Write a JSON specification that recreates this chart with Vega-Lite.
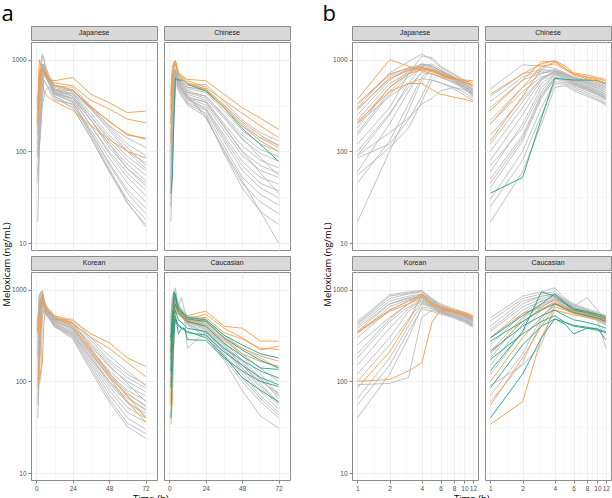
{
"$schema":"https://vega.github.io/schema/vega-lite/v6.json",
"padding":{"left":1,"top":2,"right":0,"bottom":0},
"config":{"font":"Liberation Sans","view":{"stroke":"#8C8C8C","strokeWidth":1},
"axis":{"gridColor":"#EBEBEB","labelFont":"Liberation Sans","labelFontSize":6.5,"labelColor":"#4D4D4D","tickColor":"#333333","tickSize":3,"tickWidth":0.6,"domain":false,"labelPadding":2,"labelFlush":false,"labelOverlap":false},
"title":{"color":"#000000","fontWeight":"normal"},"concat":{"spacing":5}},
"datasets":{
"subj":[
{"i":1,"p":"Japanese","g":"n"},{"i":2,"p":"Japanese","g":"n"},{"i":3,"p":"Japanese","g":"n"},{"i":4,"p":"Japanese","g":"n"},{"i":5,"p":"Japanese","g":"n"},{"i":6,"p":"Japanese","g":"n"},{"i":7,"p":"Japanese","g":"n"},{"i":8,"p":"Japanese","g":"n"},{"i":9,"p":"Japanese","g":"n"},{"i":10,"p":"Japanese","g":"n"},{"i":11,"p":"Japanese","g":"n"},{"i":12,"p":"Japanese","g":"n"},{"i":13,"p":"Japanese","g":"n"},{"i":14,"p":"Japanese","g":"n"},{"i":15,"p":"Japanese","g":"n"},{"i":16,"p":"Japanese","g":"n"},{"i":17,"p":"Japanese","g":"n"},{"i":18,"p":"Japanese","g":"n"},{"i":19,"p":"Japanese","g":"o"},{"i":20,"p":"Japanese","g":"o"},{"i":21,"p":"Japanese","g":"o"},{"i":22,"p":"Japanese","g":"o"},{"i":23,"p":"Japanese","g":"o"},
{"i":31,"p":"Chinese","g":"n"},{"i":32,"p":"Chinese","g":"n"},{"i":33,"p":"Chinese","g":"n"},{"i":34,"p":"Chinese","g":"n"},{"i":35,"p":"Chinese","g":"n"},{"i":36,"p":"Chinese","g":"n"},{"i":37,"p":"Chinese","g":"n"},{"i":38,"p":"Chinese","g":"n"},{"i":39,"p":"Chinese","g":"n"},{"i":40,"p":"Chinese","g":"n"},{"i":41,"p":"Chinese","g":"n"},{"i":42,"p":"Chinese","g":"n"},{"i":43,"p":"Chinese","g":"n"},{"i":44,"p":"Chinese","g":"n"},{"i":45,"p":"Chinese","g":"n"},{"i":46,"p":"Chinese","g":"n"},{"i":47,"p":"Chinese","g":"n"},{"i":48,"p":"Chinese","g":"n"},{"i":49,"p":"Chinese","g":"e"},{"i":50,"p":"Chinese","g":"o"},{"i":51,"p":"Chinese","g":"o"},{"i":52,"p":"Chinese","g":"o"},{"i":53,"p":"Chinese","g":"o"},
{"i":61,"p":"Korean","g":"n"},{"i":62,"p":"Korean","g":"n"},{"i":63,"p":"Korean","g":"n"},{"i":64,"p":"Korean","g":"n"},{"i":65,"p":"Korean","g":"n"},{"i":66,"p":"Korean","g":"n"},{"i":67,"p":"Korean","g":"n"},{"i":68,"p":"Korean","g":"n"},{"i":69,"p":"Korean","g":"n"},{"i":70,"p":"Korean","g":"n"},{"i":71,"p":"Korean","g":"n"},{"i":72,"p":"Korean","g":"n"},{"i":73,"p":"Korean","g":"n"},{"i":74,"p":"Korean","g":"n"},{"i":75,"p":"Korean","g":"n"},{"i":76,"p":"Korean","g":"n"},{"i":77,"p":"Korean","g":"n"},{"i":78,"p":"Korean","g":"n"},{"i":79,"p":"Korean","g":"o"},{"i":80,"p":"Korean","g":"o"},{"i":81,"p":"Korean","g":"o"},{"i":82,"p":"Korean","g":"o"},
{"i":91,"p":"Caucasian","g":"n"},{"i":92,"p":"Caucasian","g":"n"},{"i":93,"p":"Caucasian","g":"n"},{"i":94,"p":"Caucasian","g":"n"},{"i":95,"p":"Caucasian","g":"n"},{"i":96,"p":"Caucasian","g":"n"},{"i":97,"p":"Caucasian","g":"n"},{"i":98,"p":"Caucasian","g":"n"},{"i":99,"p":"Caucasian","g":"n"},{"i":100,"p":"Caucasian","g":"n"},{"i":101,"p":"Caucasian","g":"n"},{"i":102,"p":"Caucasian","g":"n"},{"i":103,"p":"Caucasian","g":"n"},{"i":104,"p":"Caucasian","g":"n"},{"i":105,"p":"Caucasian","g":"o"},{"i":106,"p":"Caucasian","g":"o"},{"i":107,"p":"Caucasian","g":"o"},{"i":108,"p":"Caucasian","g":"o"},{"i":109,"p":"Caucasian","g":"o"},{"i":110,"p":"Caucasian","g":"e"},{"i":111,"p":"Caucasian","g":"e"},{"i":112,"p":"Caucasian","g":"e"},{"i":113,"p":"Caucasian","g":"e"},{"i":114,"p":"Caucasian","g":"e"},{"i":115,"p":"Caucasian","g":"e"},{"i":116,"p":"Caucasian","g":"e"}
],
"pk":[
{"i":1,"t":1,"c":300},{"i":1,"t":2,"c":720},{"i":1,"t":3,"c":950},{"i":1,"t":4,"c":1150},{"i":1,"t":5,"c":1000},{"i":1,"t":6,"c":820},{"i":1,"t":8,"c":680},{"i":1,"t":10,"c":580},{"i":1,"t":12,"c":500},{"i":1,"t":24,"c":450},{"i":1,"t":36,"c":300},{"i":1,"t":48,"c":190},{"i":1,"t":60,"c":140},{"i":1,"t":72,"c":110},
{"i":2,"t":1,"c":120},{"i":2,"t":2,"c":300},{"i":2,"t":3,"c":700},{"i":2,"t":4,"c":1100},{"i":2,"t":5,"c":1050},{"i":2,"t":6,"c":850},{"i":2,"t":8,"c":700},{"i":2,"t":10,"c":600},{"i":2,"t":12,"c":520},{"i":2,"t":24,"c":500},{"i":2,"t":36,"c":310},{"i":2,"t":48,"c":190},{"i":2,"t":60,"c":120},{"i":2,"t":72,"c":90},
{"i":3,"t":1,"c":250},{"i":3,"t":2,"c":600},{"i":3,"t":3,"c":800},{"i":3,"t":4,"c":900},{"i":3,"t":5,"c":850},{"i":3,"t":6,"c":750},{"i":3,"t":8,"c":640},{"i":3,"t":10,"c":560},{"i":3,"t":12,"c":480},{"i":3,"t":24,"c":430},{"i":3,"t":36,"c":260},{"i":3,"t":48,"c":150},{"i":3,"t":60,"c":100},{"i":3,"t":72,"c":75},
{"i":4,"t":1,"c":180},{"i":4,"t":2,"c":500},{"i":4,"t":3,"c":750},{"i":4,"t":4,"c":880},{"i":4,"t":5,"c":820},{"i":4,"t":6,"c":720},{"i":4,"t":8,"c":620},{"i":4,"t":10,"c":540},{"i":4,"t":12,"c":470},{"i":4,"t":24,"c":400},{"i":4,"t":36,"c":240},{"i":4,"t":48,"c":140},{"i":4,"t":60,"c":88},{"i":4,"t":72,"c":62},
{"i":5,"t":1,"c":90},{"i":5,"t":2,"c":250},{"i":5,"t":3,"c":550},{"i":5,"t":4,"c":850},{"i":5,"t":5,"c":900},{"i":5,"t":6,"c":780},{"i":5,"t":8,"c":650},{"i":5,"t":10,"c":560},{"i":5,"t":12,"c":470},{"i":5,"t":24,"c":420},{"i":5,"t":36,"c":240},{"i":5,"t":48,"c":130},{"i":5,"t":60,"c":80},{"i":5,"t":72,"c":55},
{"i":6,"t":1,"c":330},{"i":6,"t":2,"c":680},{"i":6,"t":3,"c":820},{"i":6,"t":4,"c":850},{"i":6,"t":5,"c":780},{"i":6,"t":6,"c":700},{"i":6,"t":8,"c":600},{"i":6,"t":10,"c":520},{"i":6,"t":12,"c":450},{"i":6,"t":24,"c":380},{"i":6,"t":36,"c":220},{"i":6,"t":48,"c":120},{"i":6,"t":60,"c":72},{"i":6,"t":72,"c":48},
{"i":7,"t":1,"c":60},{"i":7,"t":2,"c":200},{"i":7,"t":3,"c":450},{"i":7,"t":4,"c":750},{"i":7,"t":5,"c":850},{"i":7,"t":6,"c":760},{"i":7,"t":8,"c":640},{"i":7,"t":10,"c":540},{"i":7,"t":12,"c":460},{"i":7,"t":24,"c":400},{"i":7,"t":36,"c":220},{"i":7,"t":48,"c":110},{"i":7,"t":60,"c":65},{"i":7,"t":72,"c":42},
{"i":8,"t":1,"c":150},{"i":8,"t":2,"c":420},{"i":8,"t":3,"c":650},{"i":8,"t":4,"c":800},{"i":8,"t":5,"c":780},{"i":8,"t":6,"c":700},{"i":8,"t":8,"c":600},{"i":8,"t":10,"c":520},{"i":8,"t":12,"c":440},{"i":8,"t":24,"c":360},{"i":8,"t":36,"c":190},{"i":8,"t":48,"c":100},{"i":8,"t":60,"c":58},{"i":8,"t":72,"c":38},
{"i":9,"t":1,"c":45},{"i":9,"t":2,"c":130},{"i":9,"t":3,"c":330},{"i":9,"t":4,"c":650},{"i":9,"t":5,"c":800},{"i":9,"t":6,"c":740},{"i":9,"t":8,"c":620},{"i":9,"t":10,"c":520},{"i":9,"t":12,"c":430},{"i":9,"t":24,"c":380},{"i":9,"t":36,"c":190},{"i":9,"t":48,"c":95},{"i":9,"t":60,"c":52},{"i":9,"t":72,"c":33},
{"i":10,"t":1,"c":220},{"i":10,"t":2,"c":550},{"i":10,"t":3,"c":720},{"i":10,"t":4,"c":820},{"i":10,"t":5,"c":760},{"i":10,"t":6,"c":680},{"i":10,"t":8,"c":580},{"i":10,"t":10,"c":500},{"i":10,"t":12,"c":420},{"i":10,"t":24,"c":340},{"i":10,"t":36,"c":170},{"i":10,"t":48,"c":85},{"i":10,"t":60,"c":45},{"i":10,"t":72,"c":28},
{"i":11,"t":1,"c":100},{"i":11,"t":2,"c":260},{"i":11,"t":3,"c":500},{"i":11,"t":4,"c":720},{"i":11,"t":5,"c":700},{"i":11,"t":6,"c":640},{"i":11,"t":8,"c":560},{"i":11,"t":10,"c":480},{"i":11,"t":12,"c":400},{"i":11,"t":24,"c":320},{"i":11,"t":36,"c":160},{"i":11,"t":48,"c":75},{"i":11,"t":60,"c":38},{"i":11,"t":72,"c":24},
{"i":12,"t":1,"c":17},{"i":12,"t":2,"c":100},{"i":12,"t":3,"c":280},{"i":12,"t":4,"c":600},{"i":12,"t":5,"c":780},{"i":12,"t":6,"c":720},{"i":12,"t":8,"c":600},{"i":12,"t":10,"c":500},{"i":12,"t":12,"c":420},{"i":12,"t":24,"c":350},{"i":12,"t":36,"c":160},{"i":12,"t":48,"c":72},{"i":12,"t":60,"c":35},{"i":12,"t":72,"c":21},
{"i":13,"t":1,"c":200},{"i":13,"t":2,"c":400},{"i":13,"t":3,"c":550},{"i":13,"t":4,"c":620},{"i":13,"t":5,"c":600},{"i":13,"t":6,"c":560},{"i":13,"t":8,"c":500},{"i":13,"t":10,"c":440},{"i":13,"t":12,"c":380},{"i":13,"t":24,"c":300},{"i":13,"t":36,"c":140},{"i":13,"t":48,"c":62},{"i":13,"t":60,"c":30},{"i":13,"t":72,"c":18},
{"i":14,"t":1,"c":85},{"i":14,"t":2,"c":120},{"i":14,"t":3,"c":220},{"i":14,"t":4,"c":400},{"i":14,"t":5,"c":700},{"i":14,"t":6,"c":650},{"i":14,"t":8,"c":560},{"i":14,"t":10,"c":480},{"i":14,"t":12,"c":400},{"i":14,"t":24,"c":300},{"i":14,"t":36,"c":140},{"i":14,"t":48,"c":60},{"i":14,"t":60,"c":27},{"i":14,"t":72,"c":16},
{"i":15,"t":1,"c":55},{"i":15,"t":2,"c":110},{"i":15,"t":3,"c":180},{"i":15,"t":4,"c":350},{"i":15,"t":5,"c":600},{"i":15,"t":6,"c":560},{"i":15,"t":8,"c":480},{"i":15,"t":10,"c":410},{"i":15,"t":12,"c":360},{"i":15,"t":24,"c":330},{"i":15,"t":36,"c":150},{"i":15,"t":48,"c":65},{"i":15,"t":60,"c":28},{"i":15,"t":72,"c":15},
{"i":16,"t":1,"c":280},{"i":16,"t":2,"c":650},{"i":16,"t":3,"c":780},{"i":16,"t":4,"c":830},{"i":16,"t":5,"c":760},{"i":16,"t":6,"c":680},{"i":16,"t":8,"c":580},{"i":16,"t":10,"c":500},{"i":16,"t":12,"c":430},{"i":16,"t":24,"c":430},{"i":16,"t":36,"c":290},{"i":16,"t":48,"c":170},{"i":16,"t":60,"c":100},{"i":16,"t":72,"c":65},
{"i":17,"t":1,"c":160},{"i":17,"t":2,"c":450},{"i":17,"t":3,"c":700},{"i":17,"t":4,"c":900},{"i":17,"t":5,"c":850},{"i":17,"t":6,"c":750},{"i":17,"t":8,"c":640},{"i":17,"t":10,"c":550},{"i":17,"t":12,"c":470},{"i":17,"t":24,"c":460},{"i":17,"t":36,"c":290},{"i":17,"t":48,"c":180},{"i":17,"t":60,"c":110},{"i":17,"t":72,"c":70},
{"i":18,"t":1,"c":90},{"i":18,"t":2,"c":160},{"i":18,"t":3,"c":230},{"i":18,"t":4,"c":330},{"i":18,"t":5,"c":380},{"i":18,"t":6,"c":460},{"i":18,"t":8,"c":500},{"i":18,"t":10,"c":470},{"i":18,"t":12,"c":420},{"i":18,"t":24,"c":380},{"i":18,"t":36,"c":220},{"i":18,"t":48,"c":120},{"i":18,"t":60,"c":65},{"i":18,"t":72,"c":45},
{"i":19,"t":1,"c":370},{"i":19,"t":2,"c":1000},{"i":19,"t":3,"c":850},{"i":19,"t":4,"c":760},{"i":19,"t":5,"c":700},{"i":19,"t":6,"c":650},{"i":19,"t":8,"c":620},{"i":19,"t":10,"c":600},{"i":19,"t":12,"c":590},{"i":19,"t":24,"c":640},{"i":19,"t":36,"c":420},{"i":19,"t":48,"c":340},{"i":19,"t":60,"c":265},{"i":19,"t":72,"c":275},
{"i":20,"t":1,"c":330},{"i":20,"t":2,"c":700},{"i":20,"t":3,"c":800},{"i":20,"t":4,"c":820},{"i":20,"t":5,"c":780},{"i":20,"t":6,"c":700},{"i":20,"t":8,"c":640},{"i":20,"t":10,"c":590},{"i":20,"t":12,"c":560},{"i":20,"t":24,"c":520},{"i":20,"t":36,"c":360},{"i":20,"t":48,"c":290},{"i":20,"t":60,"c":225},{"i":20,"t":72,"c":205},
{"i":21,"t":1,"c":210},{"i":21,"t":2,"c":450},{"i":21,"t":3,"c":550},{"i":21,"t":4,"c":550},{"i":21,"t":5,"c":470},{"i":21,"t":6,"c":420},{"i":21,"t":8,"c":390},{"i":21,"t":10,"c":370},{"i":21,"t":12,"c":350},{"i":21,"t":24,"c":280},{"i":21,"t":36,"c":190},{"i":21,"t":48,"c":135},{"i":21,"t":60,"c":100},{"i":21,"t":72,"c":85},
{"i":22,"t":1,"c":200},{"i":22,"t":2,"c":500},{"i":22,"t":3,"c":700},{"i":22,"t":4,"c":780},{"i":22,"t":5,"c":740},{"i":22,"t":6,"c":680},{"i":22,"t":8,"c":620},{"i":22,"t":10,"c":570},{"i":22,"t":12,"c":530},{"i":22,"t":24,"c":470},{"i":22,"t":36,"c":300},{"i":22,"t":48,"c":215},{"i":22,"t":60,"c":150},{"i":22,"t":72,"c":140},
{"i":23,"t":1,"c":290},{"i":23,"t":2,"c":620},{"i":23,"t":3,"c":760},{"i":23,"t":4,"c":800},{"i":23,"t":5,"c":760},{"i":23,"t":6,"c":690},{"i":23,"t":8,"c":620},{"i":23,"t":10,"c":570},{"i":23,"t":12,"c":520},{"i":23,"t":24,"c":460},{"i":23,"t":36,"c":310},{"i":23,"t":48,"c":210},{"i":23,"t":60,"c":155},{"i":23,"t":72,"c":135},
{"i":31,"t":1,"c":480},{"i":31,"t":2,"c":880},{"i":31,"t":3,"c":850},{"i":31,"t":4,"c":800},{"i":31,"t":5,"c":720},{"i":31,"t":6,"c":650},{"i":31,"t":8,"c":600},{"i":31,"t":10,"c":560},{"i":31,"t":12,"c":520},{"i":31,"t":24,"c":540},{"i":31,"t":36,"c":350},{"i":31,"t":48,"c":220},{"i":31,"t":60,"c":160},{"i":31,"t":72,"c":130},
{"i":32,"t":1,"c":400},{"i":32,"t":2,"c":700},{"i":32,"t":3,"c":780},{"i":32,"t":4,"c":760},{"i":32,"t":5,"c":700},{"i":32,"t":6,"c":640},{"i":32,"t":8,"c":580},{"i":32,"t":10,"c":540},{"i":32,"t":12,"c":500},{"i":32,"t":24,"c":480},{"i":32,"t":36,"c":310},{"i":32,"t":48,"c":200},{"i":32,"t":60,"c":140},{"i":32,"t":72,"c":110},
{"i":33,"t":1,"c":300},{"i":33,"t":2,"c":600},{"i":33,"t":3,"c":720},{"i":33,"t":4,"c":740},{"i":33,"t":5,"c":680},{"i":33,"t":6,"c":620},{"i":33,"t":8,"c":560},{"i":33,"t":10,"c":520},{"i":33,"t":12,"c":480},{"i":33,"t":24,"c":440},{"i":33,"t":36,"c":280},{"i":33,"t":48,"c":170},{"i":33,"t":60,"c":120},{"i":33,"t":72,"c":100},
{"i":34,"t":1,"c":220},{"i":34,"t":2,"c":500},{"i":34,"t":3,"c":700},{"i":34,"t":4,"c":780},{"i":34,"t":5,"c":700},{"i":34,"t":6,"c":620},{"i":34,"t":8,"c":560},{"i":34,"t":10,"c":510},{"i":34,"t":12,"c":460},{"i":34,"t":24,"c":400},{"i":34,"t":36,"c":250},{"i":34,"t":48,"c":150},{"i":34,"t":60,"c":105},{"i":34,"t":72,"c":88},
{"i":35,"t":1,"c":150},{"i":35,"t":2,"c":380},{"i":35,"t":3,"c":620},{"i":35,"t":4,"c":750},{"i":35,"t":5,"c":680},{"i":35,"t":6,"c":600},{"i":35,"t":8,"c":540},{"i":35,"t":10,"c":490},{"i":35,"t":12,"c":440},{"i":35,"t":24,"c":380},{"i":35,"t":36,"c":230},{"i":35,"t":48,"c":135},{"i":35,"t":60,"c":95},{"i":35,"t":72,"c":78},
{"i":36,"t":1,"c":100},{"i":36,"t":2,"c":300},{"i":36,"t":3,"c":600},{"i":36,"t":4,"c":720},{"i":36,"t":5,"c":650},{"i":36,"t":6,"c":580},{"i":36,"t":8,"c":520},{"i":36,"t":10,"c":470},{"i":36,"t":12,"c":420},{"i":36,"t":24,"c":360},{"i":36,"t":36,"c":200},{"i":36,"t":48,"c":115},{"i":36,"t":60,"c":80},{"i":36,"t":72,"c":66},
{"i":37,"t":1,"c":80},{"i":37,"t":2,"c":250},{"i":37,"t":3,"c":550},{"i":37,"t":4,"c":700},{"i":37,"t":5,"c":640},{"i":37,"t":6,"c":560},{"i":37,"t":8,"c":500},{"i":37,"t":10,"c":450},{"i":37,"t":12,"c":400},{"i":37,"t":24,"c":340},{"i":37,"t":36,"c":185},{"i":37,"t":48,"c":100},{"i":37,"t":60,"c":70},{"i":37,"t":72,"c":58},
{"i":38,"t":1,"c":60},{"i":38,"t":2,"c":200},{"i":38,"t":3,"c":500},{"i":38,"t":4,"c":680},{"i":38,"t":5,"c":620},{"i":38,"t":6,"c":550},{"i":38,"t":8,"c":480},{"i":38,"t":10,"c":430},{"i":38,"t":12,"c":380},{"i":38,"t":24,"c":320},{"i":38,"t":36,"c":170},{"i":38,"t":48,"c":90},{"i":38,"t":60,"c":62},{"i":38,"t":72,"c":52},
{"i":39,"t":1,"c":50},{"i":39,"t":2,"c":150},{"i":39,"t":3,"c":420},{"i":39,"t":4,"c":650},{"i":39,"t":5,"c":600},{"i":39,"t":6,"c":530},{"i":39,"t":8,"c":470},{"i":39,"t":10,"c":420},{"i":39,"t":12,"c":370},{"i":39,"t":24,"c":300},{"i":39,"t":36,"c":150},{"i":39,"t":48,"c":78},{"i":39,"t":60,"c":52},{"i":39,"t":72,"c":44},
{"i":40,"t":1,"c":40},{"i":40,"t":2,"c":130},{"i":40,"t":3,"c":380},{"i":40,"t":4,"c":620},{"i":40,"t":5,"c":580},{"i":40,"t":6,"c":520},{"i":40,"t":8,"c":460},{"i":40,"t":10,"c":410},{"i":40,"t":12,"c":360},{"i":40,"t":24,"c":290},{"i":40,"t":36,"c":140},{"i":40,"t":48,"c":70},{"i":40,"t":60,"c":45},{"i":40,"t":72,"c":37},
{"i":41,"t":1,"c":30},{"i":41,"t":2,"c":100},{"i":41,"t":3,"c":300},{"i":41,"t":4,"c":580},{"i":41,"t":5,"c":560},{"i":41,"t":6,"c":500},{"i":41,"t":8,"c":440},{"i":41,"t":10,"c":390},{"i":41,"t":12,"c":340},{"i":41,"t":24,"c":280},{"i":41,"t":36,"c":130},{"i":41,"t":48,"c":62},{"i":41,"t":60,"c":40},{"i":41,"t":72,"c":31},
{"i":42,"t":1,"c":25},{"i":42,"t":2,"c":80},{"i":42,"t":3,"c":250},{"i":42,"t":4,"c":550},{"i":42,"t":5,"c":540},{"i":42,"t":6,"c":480},{"i":42,"t":8,"c":420},{"i":42,"t":10,"c":370},{"i":42,"t":12,"c":330},{"i":42,"t":24,"c":260},{"i":42,"t":36,"c":115},{"i":42,"t":48,"c":52},{"i":42,"t":60,"c":34},{"i":42,"t":72,"c":26},
{"i":43,"t":1,"c":17},{"i":43,"t":2,"c":60},{"i":43,"t":3,"c":200},{"i":43,"t":4,"c":500},{"i":43,"t":5,"c":520},{"i":43,"t":6,"c":460},{"i":43,"t":8,"c":400},{"i":43,"t":10,"c":360},{"i":43,"t":12,"c":320},{"i":43,"t":24,"c":240},{"i":43,"t":36,"c":100},{"i":43,"t":48,"c":45},{"i":43,"t":60,"c":28},{"i":43,"t":72,"c":21},
{"i":44,"t":1,"c":70},{"i":44,"t":2,"c":180},{"i":44,"t":3,"c":450},{"i":44,"t":4,"c":700},{"i":44,"t":5,"c":640},{"i":44,"t":6,"c":560},{"i":44,"t":8,"c":490},{"i":44,"t":10,"c":440},{"i":44,"t":12,"c":390},{"i":44,"t":24,"c":250},{"i":44,"t":36,"c":95},{"i":44,"t":48,"c":40},{"i":44,"t":60,"c":22},{"i":44,"t":72,"c":16},
{"i":45,"t":1,"c":200},{"i":45,"t":2,"c":450},{"i":45,"t":3,"c":650},{"i":45,"t":4,"c":720},{"i":45,"t":5,"c":660},{"i":45,"t":6,"c":580},{"i":45,"t":8,"c":510},{"i":45,"t":10,"c":460},{"i":45,"t":12,"c":410},{"i":45,"t":24,"c":230},{"i":45,"t":36,"c":105},{"i":45,"t":48,"c":48},{"i":45,"t":60,"c":22},{"i":45,"t":72,"c":10},
{"i":46,"t":1,"c":350},{"i":46,"t":2,"c":650},{"i":46,"t":3,"c":750},{"i":46,"t":4,"c":760},{"i":46,"t":5,"c":700},{"i":46,"t":6,"c":640},{"i":46,"t":8,"c":580},{"i":46,"t":10,"c":540},{"i":46,"t":12,"c":500},{"i":46,"t":24,"c":460},{"i":46,"t":36,"c":300},{"i":46,"t":48,"c":190},{"i":46,"t":60,"c":140},{"i":46,"t":72,"c":118},
{"i":47,"t":1,"c":120},{"i":47,"t":2,"c":350},{"i":47,"t":3,"c":620},{"i":47,"t":4,"c":740},{"i":47,"t":5,"c":680},{"i":47,"t":6,"c":600},{"i":47,"t":8,"c":540},{"i":47,"t":10,"c":490},{"i":47,"t":12,"c":440},{"i":47,"t":24,"c":400},{"i":47,"t":36,"c":240},{"i":47,"t":48,"c":140},{"i":47,"t":60,"c":85},{"i":47,"t":72,"c":55},
{"i":48,"t":1,"c":45},{"i":48,"t":2,"c":140},{"i":48,"t":3,"c":400},{"i":48,"t":4,"c":640},{"i":48,"t":5,"c":600},{"i":48,"t":6,"c":540},{"i":48,"t":8,"c":480},{"i":48,"t":10,"c":430},{"i":48,"t":12,"c":380},{"i":48,"t":24,"c":350},{"i":48,"t":36,"c":190},{"i":48,"t":48,"c":100},{"i":48,"t":60,"c":58},{"i":48,"t":72,"c":35},
{"i":49,"t":1,"c":35},{"i":49,"t":2,"c":52},{"i":49,"t":3,"c":230},{"i":49,"t":4,"c":630},{"i":49,"t":5,"c":610},{"i":49,"t":6,"c":600},{"i":49,"t":8,"c":600},{"i":49,"t":10,"c":590},{"i":49,"t":12,"c":540},{"i":49,"t":24,"c":455},{"i":49,"t":36,"c":300},{"i":49,"t":48,"c":178},{"i":49,"t":60,"c":119},{"i":49,"t":72,"c":78},
{"i":50,"t":1,"c":420},{"i":50,"t":2,"c":700},{"i":50,"t":3,"c":900},{"i":50,"t":4,"c":980},{"i":50,"t":5,"c":850},{"i":50,"t":6,"c":720},{"i":50,"t":8,"c":680},{"i":50,"t":10,"c":640},{"i":50,"t":12,"c":610},{"i":50,"t":24,"c":590},{"i":50,"t":36,"c":420},{"i":50,"t":48,"c":300},{"i":50,"t":60,"c":230},{"i":50,"t":72,"c":174},
{"i":51,"t":1,"c":280},{"i":51,"t":2,"c":600},{"i":51,"t":3,"c":950},{"i":51,"t":4,"c":960},{"i":51,"t":5,"c":800},{"i":51,"t":6,"c":700},{"i":51,"t":8,"c":650},{"i":51,"t":10,"c":620},{"i":51,"t":12,"c":590},{"i":51,"t":24,"c":500},{"i":51,"t":36,"c":360},{"i":51,"t":48,"c":260},{"i":51,"t":60,"c":190},{"i":51,"t":72,"c":141},
{"i":52,"t":1,"c":200},{"i":52,"t":2,"c":500},{"i":52,"t":3,"c":850},{"i":52,"t":4,"c":900},{"i":52,"t":5,"c":780},{"i":52,"t":6,"c":680},{"i":52,"t":8,"c":620},{"i":52,"t":10,"c":580},{"i":52,"t":12,"c":550},{"i":52,"t":24,"c":470},{"i":52,"t":36,"c":300},{"i":52,"t":48,"c":190},{"i":52,"t":60,"c":130},{"i":52,"t":72,"c":100},
{"i":53,"t":1,"c":130},{"i":53,"t":2,"c":400},{"i":53,"t":3,"c":800},{"i":53,"t":4,"c":950},{"i":53,"t":5,"c":800},{"i":53,"t":6,"c":700},{"i":53,"t":8,"c":640},{"i":53,"t":10,"c":600},{"i":53,"t":12,"c":560},{"i":53,"t":24,"c":480},{"i":53,"t":36,"c":320},{"i":53,"t":48,"c":210},{"i":53,"t":60,"c":150},{"i":53,"t":72,"c":115},
{"i":61,"t":1,"c":450},{"i":61,"t":2,"c":880},{"i":61,"t":3,"c":950},{"i":61,"t":4,"c":980},{"i":61,"t":5,"c":800},{"i":61,"t":6,"c":700},{"i":61,"t":8,"c":620},{"i":61,"t":10,"c":570},{"i":61,"t":12,"c":520},{"i":61,"t":24,"c":440},{"i":61,"t":36,"c":280},{"i":61,"t":48,"c":170},{"i":61,"t":60,"c":120},{"i":61,"t":72,"c":92},
{"i":62,"t":1,"c":420},{"i":62,"t":2,"c":800},{"i":62,"t":3,"c":900},{"i":62,"t":4,"c":950},{"i":62,"t":5,"c":780},{"i":62,"t":6,"c":680},{"i":62,"t":8,"c":600},{"i":62,"t":10,"c":550},{"i":62,"t":12,"c":500},{"i":62,"t":24,"c":420},{"i":62,"t":36,"c":260},{"i":62,"t":48,"c":160},{"i":62,"t":60,"c":110},{"i":62,"t":72,"c":85},
{"i":63,"t":1,"c":400},{"i":63,"t":2,"c":750},{"i":63,"t":3,"c":850},{"i":63,"t":4,"c":900},{"i":63,"t":5,"c":750},{"i":63,"t":6,"c":660},{"i":63,"t":8,"c":590},{"i":63,"t":10,"c":540},{"i":63,"t":12,"c":490},{"i":63,"t":24,"c":400},{"i":63,"t":36,"c":240},{"i":63,"t":48,"c":145},{"i":63,"t":60,"c":100},{"i":63,"t":72,"c":77},
{"i":64,"t":1,"c":380},{"i":64,"t":2,"c":700},{"i":64,"t":3,"c":820},{"i":64,"t":4,"c":880},{"i":64,"t":5,"c":740},{"i":64,"t":6,"c":650},{"i":64,"t":8,"c":580},{"i":64,"t":10,"c":530},{"i":64,"t":12,"c":480},{"i":64,"t":24,"c":390},{"i":64,"t":36,"c":225},{"i":64,"t":48,"c":130},{"i":64,"t":60,"c":88},{"i":64,"t":72,"c":70},
{"i":65,"t":1,"c":330},{"i":65,"t":2,"c":650},{"i":65,"t":3,"c":780},{"i":65,"t":4,"c":850},{"i":65,"t":5,"c":720},{"i":65,"t":6,"c":640},{"i":65,"t":8,"c":570},{"i":65,"t":10,"c":520},{"i":65,"t":12,"c":470},{"i":65,"t":24,"c":380},{"i":65,"t":36,"c":210},{"i":65,"t":48,"c":120},{"i":65,"t":60,"c":80},{"i":65,"t":72,"c":62},
{"i":66,"t":1,"c":300},{"i":66,"t":2,"c":600},{"i":66,"t":3,"c":750},{"i":66,"t":4,"c":820},{"i":66,"t":5,"c":700},{"i":66,"t":6,"c":620},{"i":66,"t":8,"c":560},{"i":66,"t":10,"c":510},{"i":66,"t":12,"c":460},{"i":66,"t":24,"c":370},{"i":66,"t":36,"c":200},{"i":66,"t":48,"c":110},{"i":66,"t":60,"c":72},{"i":66,"t":72,"c":55},
{"i":67,"t":1,"c":250},{"i":67,"t":2,"c":500},{"i":67,"t":3,"c":700},{"i":67,"t":4,"c":800},{"i":67,"t":5,"c":690},{"i":67,"t":6,"c":610},{"i":67,"t":8,"c":550},{"i":67,"t":10,"c":500},{"i":67,"t":12,"c":450},{"i":67,"t":24,"c":360},{"i":67,"t":36,"c":190},{"i":67,"t":48,"c":100},{"i":67,"t":60,"c":65},{"i":67,"t":72,"c":50},
{"i":68,"t":1,"c":180},{"i":68,"t":2,"c":450},{"i":68,"t":3,"c":650},{"i":68,"t":4,"c":780},{"i":68,"t":5,"c":680},{"i":68,"t":6,"c":600},{"i":68,"t":8,"c":540},{"i":68,"t":10,"c":490},{"i":68,"t":12,"c":440},{"i":68,"t":24,"c":340},{"i":68,"t":36,"c":180},{"i":68,"t":48,"c":95},{"i":68,"t":60,"c":58},{"i":68,"t":72,"c":45},
{"i":69,"t":1,"c":150},{"i":69,"t":2,"c":380},{"i":69,"t":3,"c":620},{"i":69,"t":4,"c":760},{"i":69,"t":5,"c":670},{"i":69,"t":6,"c":590},{"i":69,"t":8,"c":530},{"i":69,"t":10,"c":480},{"i":69,"t":12,"c":430},{"i":69,"t":24,"c":330},{"i":69,"t":36,"c":170},{"i":69,"t":48,"c":88},{"i":69,"t":60,"c":52},{"i":69,"t":72,"c":40},
{"i":70,"t":1,"c":120},{"i":70,"t":2,"c":300},{"i":70,"t":3,"c":580},{"i":70,"t":4,"c":740},{"i":70,"t":5,"c":660},{"i":70,"t":6,"c":580},{"i":70,"t":8,"c":520},{"i":70,"t":10,"c":470},{"i":70,"t":12,"c":420},{"i":70,"t":24,"c":320},{"i":70,"t":36,"c":160},{"i":70,"t":48,"c":80},{"i":70,"t":60,"c":46},{"i":70,"t":72,"c":36},
{"i":71,"t":1,"c":92},{"i":71,"t":2,"c":95},{"i":71,"t":3,"c":110},{"i":71,"t":4,"c":500},{"i":71,"t":5,"c":600},{"i":71,"t":6,"c":560},{"i":71,"t":8,"c":510},{"i":71,"t":10,"c":460},{"i":71,"t":12,"c":410},{"i":71,"t":24,"c":310},{"i":71,"t":36,"c":150},{"i":71,"t":48,"c":72},{"i":71,"t":60,"c":40},{"i":71,"t":72,"c":30},
{"i":72,"t":1,"c":65},{"i":72,"t":2,"c":180},{"i":72,"t":3,"c":400},{"i":72,"t":4,"c":700},{"i":72,"t":5,"c":640},{"i":72,"t":6,"c":570},{"i":72,"t":8,"c":510},{"i":72,"t":10,"c":460},{"i":72,"t":12,"c":410},{"i":72,"t":24,"c":300},{"i":72,"t":36,"c":140},{"i":72,"t":48,"c":65},{"i":72,"t":60,"c":35},{"i":72,"t":72,"c":27},
{"i":73,"t":1,"c":40},{"i":73,"t":2,"c":120},{"i":73,"t":3,"c":300},{"i":73,"t":4,"c":650},{"i":73,"t":5,"c":620},{"i":73,"t":6,"c":560},{"i":73,"t":8,"c":500},{"i":73,"t":10,"c":450},{"i":73,"t":12,"c":400},{"i":73,"t":24,"c":290},{"i":73,"t":36,"c":130},{"i":73,"t":48,"c":60},{"i":73,"t":60,"c":32},{"i":73,"t":72,"c":24},
{"i":74,"t":1,"c":200},{"i":74,"t":2,"c":480},{"i":74,"t":3,"c":700},{"i":74,"t":4,"c":900},{"i":74,"t":5,"c":780},{"i":74,"t":6,"c":660},{"i":74,"t":8,"c":580},{"i":74,"t":10,"c":520},{"i":74,"t":12,"c":470},{"i":74,"t":24,"c":480},{"i":74,"t":36,"c":300},{"i":74,"t":48,"c":190},{"i":74,"t":60,"c":130},{"i":74,"t":72,"c":90},
{"i":75,"t":1,"c":350},{"i":75,"t":2,"c":700},{"i":75,"t":3,"c":800},{"i":75,"t":4,"c":830},{"i":75,"t":5,"c":720},{"i":75,"t":6,"c":630},{"i":75,"t":8,"c":570},{"i":75,"t":10,"c":520},{"i":75,"t":12,"c":470},{"i":75,"t":24,"c":420},{"i":75,"t":36,"c":250},{"i":75,"t":48,"c":150},{"i":75,"t":60,"c":95},{"i":75,"t":72,"c":60},
{"i":76,"t":1,"c":55},{"i":76,"t":2,"c":150},{"i":76,"t":3,"c":350},{"i":76,"t":4,"c":620},{"i":76,"t":5,"c":580},{"i":76,"t":6,"c":540},{"i":76,"t":8,"c":490},{"i":76,"t":10,"c":440},{"i":76,"t":12,"c":390},{"i":76,"t":24,"c":330},{"i":76,"t":36,"c":180},{"i":76,"t":48,"c":100},{"i":76,"t":60,"c":60},{"i":76,"t":72,"c":42},
{"i":77,"t":1,"c":100},{"i":77,"t":2,"c":250},{"i":77,"t":3,"c":480},{"i":77,"t":4,"c":720},{"i":77,"t":5,"c":650},{"i":77,"t":6,"c":580},{"i":77,"t":8,"c":520},{"i":77,"t":10,"c":470},{"i":77,"t":12,"c":420},{"i":77,"t":24,"c":350},{"i":77,"t":36,"c":200},{"i":77,"t":48,"c":115},{"i":77,"t":60,"c":68},{"i":77,"t":72,"c":48},
{"i":78,"t":1,"c":430},{"i":78,"t":2,"c":850},{"i":78,"t":3,"c":920},{"i":78,"t":4,"c":960},{"i":78,"t":5,"c":760},{"i":78,"t":6,"c":640},{"i":78,"t":8,"c":560},{"i":78,"t":10,"c":500},{"i":78,"t":12,"c":450},{"i":78,"t":24,"c":380},{"i":78,"t":36,"c":220},{"i":78,"t":48,"c":125},{"i":78,"t":60,"c":75},{"i":78,"t":72,"c":53},
{"i":79,"t":1,"c":350},{"i":79,"t":2,"c":600},{"i":79,"t":3,"c":750},{"i":79,"t":4,"c":900},{"i":79,"t":5,"c":700},{"i":79,"t":6,"c":650},{"i":79,"t":8,"c":600},{"i":79,"t":10,"c":560},{"i":79,"t":12,"c":520},{"i":79,"t":24,"c":460},{"i":79,"t":36,"c":330},{"i":79,"t":48,"c":265},{"i":79,"t":60,"c":180},{"i":79,"t":72,"c":146},
{"i":80,"t":1,"c":340},{"i":80,"t":2,"c":580},{"i":80,"t":3,"c":700},{"i":80,"t":4,"c":850},{"i":80,"t":5,"c":680},{"i":80,"t":6,"c":630},{"i":80,"t":8,"c":580},{"i":80,"t":10,"c":540},{"i":80,"t":12,"c":500},{"i":80,"t":24,"c":430},{"i":80,"t":36,"c":300},{"i":80,"t":48,"c":230},{"i":80,"t":60,"c":160},{"i":80,"t":72,"c":113},
{"i":81,"t":1,"c":100},{"i":81,"t":2,"c":105},{"i":81,"t":3,"c":130},{"i":81,"t":4,"c":160},{"i":81,"t":5,"c":450},{"i":81,"t":6,"c":600},{"i":81,"t":8,"c":580},{"i":81,"t":10,"c":540},{"i":81,"t":12,"c":500},{"i":81,"t":24,"c":400},{"i":81,"t":36,"c":210},{"i":81,"t":48,"c":110},{"i":81,"t":60,"c":60},{"i":81,"t":72,"c":36},
{"i":82,"t":1,"c":85},{"i":82,"t":2,"c":210},{"i":82,"t":3,"c":450},{"i":82,"t":4,"c":880},{"i":82,"t":5,"c":700},{"i":82,"t":6,"c":620},{"i":82,"t":8,"c":570},{"i":82,"t":10,"c":530},{"i":82,"t":12,"c":490},{"i":82,"t":24,"c":440},{"i":82,"t":36,"c":230},{"i":82,"t":48,"c":120},{"i":82,"t":60,"c":70},{"i":82,"t":72,"c":40},
{"i":91,"t":1,"c":494},{"i":91,"t":2,"c":850},{"i":91,"t":3,"c":950},{"i":91,"t":4,"c":1050},{"i":91,"t":5,"c":800},{"i":91,"t":6,"c":700},{"i":91,"t":8,"c":620},{"i":91,"t":10,"c":570},{"i":91,"t":12,"c":520},{"i":91,"t":24,"c":480},{"i":91,"t":36,"c":320},{"i":91,"t":48,"c":230},{"i":91,"t":60,"c":180},{"i":91,"t":72,"c":140},
{"i":92,"t":1,"c":455},{"i":92,"t":2,"c":800},{"i":92,"t":3,"c":900},{"i":92,"t":4,"c":950},{"i":92,"t":5,"c":780},{"i":92,"t":6,"c":680},{"i":92,"t":8,"c":600},{"i":92,"t":10,"c":550},{"i":92,"t":12,"c":500},{"i":92,"t":24,"c":450},{"i":92,"t":36,"c":290},{"i":92,"t":48,"c":190},{"i":92,"t":60,"c":120},{"i":92,"t":72,"c":71},
{"i":93,"t":1,"c":368},{"i":93,"t":2,"c":700},{"i":93,"t":3,"c":850},{"i":93,"t":4,"c":900},{"i":93,"t":5,"c":760},{"i":93,"t":6,"c":660},{"i":93,"t":8,"c":820},{"i":93,"t":10,"c":600},{"i":93,"t":12,"c":480},{"i":93,"t":24,"c":430},{"i":93,"t":36,"c":270},{"i":93,"t":48,"c":170},{"i":93,"t":60,"c":110},{"i":93,"t":72,"c":65},
{"i":94,"t":1,"c":298},{"i":94,"t":2,"c":600},{"i":94,"t":3,"c":750},{"i":94,"t":4,"c":850},{"i":94,"t":5,"c":720},{"i":94,"t":6,"c":640},{"i":94,"t":8,"c":580},{"i":94,"t":10,"c":530},{"i":94,"t":12,"c":480},{"i":94,"t":24,"c":400},{"i":94,"t":36,"c":250},{"i":94,"t":48,"c":150},{"i":94,"t":60,"c":95},{"i":94,"t":72,"c":58},
{"i":95,"t":1,"c":213},{"i":95,"t":2,"c":500},{"i":95,"t":3,"c":700},{"i":95,"t":4,"c":800},{"i":95,"t":5,"c":700},{"i":95,"t":6,"c":620},{"i":95,"t":8,"c":560},{"i":95,"t":10,"c":510},{"i":95,"t":12,"c":460},{"i":95,"t":24,"c":380},{"i":95,"t":36,"c":230},{"i":95,"t":48,"c":140},{"i":95,"t":60,"c":85},{"i":95,"t":72,"c":55},
{"i":96,"t":1,"c":150},{"i":96,"t":2,"c":420},{"i":96,"t":3,"c":650},{"i":96,"t":4,"c":780},{"i":96,"t":5,"c":680},{"i":96,"t":6,"c":600},{"i":96,"t":8,"c":540},{"i":96,"t":10,"c":500},{"i":96,"t":12,"c":450},{"i":96,"t":24,"c":370},{"i":96,"t":36,"c":220},{"i":96,"t":48,"c":130},{"i":96,"t":60,"c":78},{"i":96,"t":72,"c":50},
{"i":97,"t":1,"c":118},{"i":97,"t":2,"c":350},{"i":97,"t":3,"c":600},{"i":97,"t":4,"c":750},{"i":97,"t":5,"c":660},{"i":97,"t":6,"c":590},{"i":97,"t":8,"c":530},{"i":97,"t":10,"c":490},{"i":97,"t":12,"c":440},{"i":97,"t":24,"c":360},{"i":97,"t":36,"c":200},{"i":97,"t":48,"c":120},{"i":97,"t":60,"c":70},{"i":97,"t":72,"c":46},
{"i":98,"t":1,"c":90},{"i":98,"t":2,"c":150},{"i":98,"t":3,"c":250},{"i":98,"t":4,"c":700},{"i":98,"t":5,"c":650},{"i":98,"t":6,"c":580},{"i":98,"t":8,"c":520},{"i":98,"t":10,"c":480},{"i":98,"t":12,"c":430},{"i":98,"t":24,"c":340},{"i":98,"t":36,"c":190},{"i":98,"t":48,"c":110},{"i":98,"t":60,"c":65},{"i":98,"t":72,"c":43},
{"i":99,"t":1,"c":70},{"i":99,"t":2,"c":200},{"i":99,"t":3,"c":500},{"i":99,"t":4,"c":720},{"i":99,"t":5,"c":640},{"i":99,"t":6,"c":570},{"i":99,"t":8,"c":510},{"i":99,"t":10,"c":470},{"i":99,"t":12,"c":420},{"i":99,"t":24,"c":330},{"i":99,"t":36,"c":180},{"i":99,"t":48,"c":100},{"i":99,"t":60,"c":60},{"i":99,"t":72,"c":40},
{"i":100,"t":1,"c":60},{"i":100,"t":2,"c":160},{"i":100,"t":3,"c":450},{"i":100,"t":4,"c":700},{"i":100,"t":5,"c":620},{"i":100,"t":6,"c":560},{"i":100,"t":8,"c":500},{"i":100,"t":10,"c":460},{"i":100,"t":12,"c":410},{"i":100,"t":24,"c":310},{"i":100,"t":36,"c":170},{"i":100,"t":48,"c":80},{"i":100,"t":60,"c":42},{"i":100,"t":72,"c":31},
{"i":101,"t":1,"c":350},{"i":101,"t":2,"c":650},{"i":101,"t":3,"c":800},{"i":101,"t":4,"c":880},{"i":101,"t":5,"c":740},{"i":101,"t":6,"c":650},{"i":101,"t":8,"c":580},{"i":101,"t":10,"c":520},{"i":101,"t":12,"c":470},{"i":101,"t":24,"c":420},{"i":101,"t":36,"c":260},{"i":101,"t":48,"c":160},{"i":101,"t":60,"c":105},{"i":101,"t":72,"c":70},
{"i":102,"t":1,"c":250},{"i":102,"t":2,"c":550},{"i":102,"t":3,"c":750},{"i":102,"t":4,"c":830},{"i":102,"t":5,"c":710},{"i":102,"t":6,"c":630},{"i":102,"t":8,"c":560},{"i":102,"t":10,"c":480},{"i":102,"t":12,"c":230},{"i":102,"t":24,"c":350},{"i":102,"t":36,"c":220},{"i":102,"t":48,"c":140},{"i":102,"t":60,"c":90},{"i":102,"t":72,"c":58},
{"i":103,"t":1,"c":400},{"i":103,"t":2,"c":750},{"i":103,"t":3,"c":850},{"i":103,"t":4,"c":900},{"i":103,"t":5,"c":760},{"i":103,"t":6,"c":670},{"i":103,"t":8,"c":600},{"i":103,"t":10,"c":550},{"i":103,"t":12,"c":500},{"i":103,"t":24,"c":460},{"i":103,"t":36,"c":300},{"i":103,"t":48,"c":200},{"i":103,"t":60,"c":140},{"i":103,"t":72,"c":100},
{"i":104,"t":1,"c":180},{"i":104,"t":2,"c":480},{"i":104,"t":3,"c":680},{"i":104,"t":4,"c":800},{"i":104,"t":5,"c":700},{"i":104,"t":6,"c":620},{"i":104,"t":8,"c":560},{"i":104,"t":10,"c":510},{"i":104,"t":12,"c":460},{"i":104,"t":24,"c":390},{"i":104,"t":36,"c":240},{"i":104,"t":48,"c":150},{"i":104,"t":60,"c":100},{"i":104,"t":72,"c":75},
{"i":105,"t":1,"c":300},{"i":105,"t":2,"c":550},{"i":105,"t":3,"c":650},{"i":105,"t":4,"c":780},{"i":105,"t":5,"c":650},{"i":105,"t":6,"c":600},{"i":105,"t":8,"c":560},{"i":105,"t":10,"c":540},{"i":105,"t":12,"c":520},{"i":105,"t":24,"c":585},{"i":105,"t":36,"c":400},{"i":105,"t":48,"c":380},{"i":105,"t":60,"c":275},{"i":105,"t":72,"c":275},
{"i":106,"t":1,"c":200},{"i":106,"t":2,"c":450},{"i":106,"t":3,"c":620},{"i":106,"t":4,"c":720},{"i":106,"t":5,"c":640},{"i":106,"t":6,"c":580},{"i":106,"t":8,"c":540},{"i":106,"t":10,"c":510},{"i":106,"t":12,"c":480},{"i":106,"t":24,"c":540},{"i":106,"t":36,"c":380},{"i":106,"t":48,"c":300},{"i":106,"t":60,"c":220},{"i":106,"t":72,"c":242},
{"i":107,"t":1,"c":100},{"i":107,"t":2,"c":300},{"i":107,"t":3,"c":500},{"i":107,"t":4,"c":700},{"i":107,"t":5,"c":620},{"i":107,"t":6,"c":570},{"i":107,"t":8,"c":530},{"i":107,"t":10,"c":500},{"i":107,"t":12,"c":470},{"i":107,"t":24,"c":500},{"i":107,"t":36,"c":340},{"i":107,"t":48,"c":290},{"i":107,"t":60,"c":230},{"i":107,"t":72,"c":223},
{"i":108,"t":1,"c":55},{"i":108,"t":2,"c":180},{"i":108,"t":3,"c":400},{"i":108,"t":4,"c":650},{"i":108,"t":5,"c":600},{"i":108,"t":6,"c":550},{"i":108,"t":8,"c":520},{"i":108,"t":10,"c":490},{"i":108,"t":12,"c":460},{"i":108,"t":24,"c":450},{"i":108,"t":36,"c":300},{"i":108,"t":48,"c":230},{"i":108,"t":60,"c":190},{"i":108,"t":72,"c":166},
{"i":109,"t":1,"c":34},{"i":109,"t":2,"c":60},{"i":109,"t":3,"c":300},{"i":109,"t":4,"c":600},{"i":109,"t":5,"c":560},{"i":109,"t":6,"c":530},{"i":109,"t":8,"c":500},{"i":109,"t":10,"c":470},{"i":109,"t":12,"c":440},{"i":109,"t":24,"c":420},{"i":109,"t":36,"c":280},{"i":109,"t":48,"c":200},{"i":109,"t":60,"c":165},{"i":109,"t":72,"c":146},
{"i":110,"t":1,"c":298},{"i":110,"t":2,"c":520},{"i":110,"t":3,"c":700},{"i":110,"t":4,"c":900},{"i":110,"t":5,"c":720},{"i":110,"t":6,"c":620},{"i":110,"t":8,"c":580},{"i":110,"t":10,"c":540},{"i":110,"t":12,"c":500},{"i":110,"t":24,"c":470},{"i":110,"t":36,"c":320},{"i":110,"t":48,"c":250},{"i":110,"t":60,"c":200},{"i":110,"t":72,"c":180},
{"i":111,"t":1,"c":275},{"i":111,"t":2,"c":450},{"i":111,"t":3,"c":600},{"i":111,"t":4,"c":700},{"i":111,"t":5,"c":620},{"i":111,"t":6,"c":560},{"i":111,"t":8,"c":520},{"i":111,"t":10,"c":490},{"i":111,"t":12,"c":450},{"i":111,"t":24,"c":400},{"i":111,"t":36,"c":260},{"i":111,"t":48,"c":190},{"i":111,"t":60,"c":140},{"i":111,"t":72,"c":135},
{"i":112,"t":1,"c":213},{"i":112,"t":2,"c":400},{"i":112,"t":3,"c":520},{"i":112,"t":4,"c":600},{"i":112,"t":5,"c":520},{"i":112,"t":6,"c":470},{"i":112,"t":8,"c":440},{"i":112,"t":10,"c":410},{"i":112,"t":12,"c":380},{"i":112,"t":24,"c":350},{"i":112,"t":36,"c":230},{"i":112,"t":48,"c":170},{"i":112,"t":60,"c":130},{"i":112,"t":72,"c":109},
{"i":113,"t":1,"c":173},{"i":113,"t":2,"c":330},{"i":113,"t":3,"c":450},{"i":113,"t":4,"c":520},{"i":113,"t":5,"c":440},{"i":113,"t":6,"c":400},{"i":113,"t":8,"c":380},{"i":113,"t":10,"c":360},{"i":113,"t":12,"c":340},{"i":113,"t":24,"c":320},{"i":113,"t":36,"c":210},{"i":113,"t":48,"c":150},{"i":113,"t":60,"c":110},{"i":113,"t":72,"c":92},
{"i":114,"t":1,"c":85},{"i":114,"t":2,"c":250},{"i":114,"t":3,"c":400},{"i":114,"t":4,"c":480},{"i":114,"t":5,"c":420},{"i":114,"t":6,"c":330},{"i":114,"t":8,"c":380},{"i":114,"t":10,"c":380},{"i":114,"t":12,"c":285},{"i":114,"t":24,"c":280},{"i":114,"t":36,"c":180},{"i":114,"t":48,"c":130},{"i":114,"t":60,"c":100},{"i":114,"t":72,"c":88},
{"i":115,"t":1,"c":40},{"i":115,"t":2,"c":120},{"i":115,"t":3,"c":300},{"i":115,"t":4,"c":480},{"i":115,"t":5,"c":440},{"i":115,"t":6,"c":410},{"i":115,"t":8,"c":390},{"i":115,"t":10,"c":370},{"i":115,"t":12,"c":350},{"i":115,"t":24,"c":300},{"i":115,"t":36,"c":190},{"i":115,"t":48,"c":110},{"i":115,"t":60,"c":80},{"i":115,"t":72,"c":60},
{"i":116,"t":1,"c":130},{"i":116,"t":2,"c":350},{"i":116,"t":3,"c":950},{"i":116,"t":4,"c":850},{"i":116,"t":5,"c":700},{"i":116,"t":6,"c":600},{"i":116,"t":8,"c":560},{"i":116,"t":10,"c":520},{"i":116,"t":12,"c":480},{"i":116,"t":24,"c":450},{"i":116,"t":36,"c":300},{"i":116,"t":48,"c":220},{"i":116,"t":60,"c":170},{"i":116,"t":72,"c":140}
]},
"spacing":31,
"hconcat":[
{"title":{"text":"a","anchor":"start","frame":"bounds","fontSize":22,"font":"Open Sans","offset":0},
 "vconcat":[{"title":{"text":"Meloxicam (ng/mL)","orient":"left","anchor":"middle","fontSize":9.5,"font":"Open Sans","offset":0},
  "vconcat":[{"title":{"text":"Time (h)","orient":"bottom","anchor":"middle","fontSize":9.5,"font":"Open Sans","offset":2},
   "spacing":4,
   "vconcat":[
    {"spacing":5,"hconcat":[
     {"spacing":0,"vconcat":[
      {"width":126,"height":14,"data":{"values":[{"p":"Japanese"}]},"mark":{"type":"text","fontSize":7,"color":"#1A1A1A"},"encoding":{"text":{"field":"p","type":"nominal"}},"view":{"fill":"#D9D9D9","stroke":"#8C8C8C"}},
      {"width":126,"height":208,"data":{"name":"pk"},"transform":[{"lookup":"i","from":{"data":{"name":"subj"},"key":"i","fields":["p","g"]}},{"filter":{"field":"p","equal":"Japanese"}}],
       "encoding":{"x":{"field":"t","type":"quantitative","scale":{"domain":[-3.5,79.5],"nice":false,"zero":false},"axis":{"values":[0,12,24,36,48,60,72],"labels":false,"ticks":false,"title":null,"gridWidth":{"condition":{"test":"datum.value % 24 === 0","value":0.8},"value":0.4}}},
        "y":{"field":"c","type":"quantitative","scale":{"type":"log","domain":[8.4,1560],"nice":false},"axis":{"values":[10,31.62,100,316.2,1000],"format":"d","title":null,"labelExpr":"(datum.value === 10 || datum.value === 100 || datum.value === 1000) ? datum.label : ''","tickOpacity":{"condition":{"test":"datum.value === 10 || datum.value === 100 || datum.value === 1000","value":1},"value":0},"gridWidth":{"condition":{"test":"datum.value === 10 || datum.value === 100 || datum.value === 1000","value":0.8},"value":0.4}}},
        "detail":{"field":"i","type":"nominal"}},
       "layer":[{"transform":[{"filter":{"field":"g","equal":"n"}}],"mark":{"type":"line","color":"#B3B3B3","strokeWidth":0.8}},
        {"transform":[{"filter":{"field":"g","oneOf":["o","e"]}}],"mark":{"type":"line","strokeWidth":0.9},"encoding":{"color":{"field":"g","type":"nominal","scale":{"domain":["o","e"],"range":["#F39C4B","#21A084"]},"legend":null}}}]}
     ]},
     {"spacing":0,"vconcat":[
      {"width":126,"height":14,"data":{"values":[{"p":"Chinese"}]},"mark":{"type":"text","fontSize":7,"color":"#1A1A1A"},"encoding":{"text":{"field":"p","type":"nominal"}},"view":{"fill":"#D9D9D9","stroke":"#8C8C8C"}},
      {"width":126,"height":208,"data":{"name":"pk"},"transform":[{"lookup":"i","from":{"data":{"name":"subj"},"key":"i","fields":["p","g"]}},{"filter":{"field":"p","equal":"Chinese"}}],
       "encoding":{"x":{"field":"t","type":"quantitative","scale":{"domain":[-3.5,79.5],"nice":false,"zero":false},"axis":{"values":[0,12,24,36,48,60,72],"labels":false,"ticks":false,"title":null,"gridWidth":{"condition":{"test":"datum.value % 24 === 0","value":0.8},"value":0.4}}},
        "y":{"field":"c","type":"quantitative","scale":{"type":"log","domain":[8.4,1560],"nice":false},"axis":{"values":[10,31.62,100,316.2,1000],"labels":false,"ticks":false,"title":null,"gridWidth":{"condition":{"test":"datum.value === 10 || datum.value === 100 || datum.value === 1000","value":0.8},"value":0.4}}},
        "detail":{"field":"i","type":"nominal"}},
       "layer":[{"transform":[{"filter":{"field":"g","equal":"n"}}],"mark":{"type":"line","color":"#B3B3B3","strokeWidth":0.8}},
        {"transform":[{"filter":{"field":"g","oneOf":["o","e"]}}],"mark":{"type":"line","strokeWidth":0.9},"encoding":{"color":{"field":"g","type":"nominal","scale":{"domain":["o","e"],"range":["#F39C4B","#21A084"]},"legend":null}}}]}
     ]}
    ]},
    {"spacing":5,"hconcat":[
     {"spacing":0,"vconcat":[
      {"width":126,"height":14,"data":{"values":[{"p":"Korean"}]},"mark":{"type":"text","fontSize":7,"color":"#1A1A1A"},"encoding":{"text":{"field":"p","type":"nominal"}},"view":{"fill":"#D9D9D9","stroke":"#8C8C8C"}},
      {"width":126,"height":208,"data":{"name":"pk"},"transform":[{"lookup":"i","from":{"data":{"name":"subj"},"key":"i","fields":["p","g"]}},{"filter":{"field":"p","equal":"Korean"}}],
       "encoding":{"x":{"field":"t","type":"quantitative","scale":{"domain":[-3.5,79.5],"nice":false,"zero":false},"axis":{"values":[0,12,24,36,48,60,72],"format":"d","title":null,"labelExpr":"datum.value % 24 === 0 ? datum.label : ''","tickOpacity":{"condition":{"test":"datum.value % 24 === 0","value":1},"value":0},"gridWidth":{"condition":{"test":"datum.value % 24 === 0","value":0.8},"value":0.4}}},
        "y":{"field":"c","type":"quantitative","scale":{"type":"log","domain":[8.4,1560],"nice":false},"axis":{"values":[10,31.62,100,316.2,1000],"format":"d","title":null,"labelExpr":"(datum.value === 10 || datum.value === 100 || datum.value === 1000) ? datum.label : ''","tickOpacity":{"condition":{"test":"datum.value === 10 || datum.value === 100 || datum.value === 1000","value":1},"value":0},"gridWidth":{"condition":{"test":"datum.value === 10 || datum.value === 100 || datum.value === 1000","value":0.8},"value":0.4}}},
        "detail":{"field":"i","type":"nominal"}},
       "layer":[{"transform":[{"filter":{"field":"g","equal":"n"}}],"mark":{"type":"line","color":"#B3B3B3","strokeWidth":0.8}},
        {"transform":[{"filter":{"field":"g","oneOf":["o","e"]}}],"mark":{"type":"line","strokeWidth":0.9},"encoding":{"color":{"field":"g","type":"nominal","scale":{"domain":["o","e"],"range":["#F39C4B","#21A084"]},"legend":null}}}]}
     ]},
     {"spacing":0,"vconcat":[
      {"width":126,"height":14,"data":{"values":[{"p":"Caucasian"}]},"mark":{"type":"text","fontSize":7,"color":"#1A1A1A"},"encoding":{"text":{"field":"p","type":"nominal"}},"view":{"fill":"#D9D9D9","stroke":"#8C8C8C"}},
      {"width":126,"height":208,"data":{"name":"pk"},"transform":[{"lookup":"i","from":{"data":{"name":"subj"},"key":"i","fields":["p","g"]}},{"filter":{"field":"p","equal":"Caucasian"}}],
       "encoding":{"x":{"field":"t","type":"quantitative","scale":{"domain":[-3.5,79.5],"nice":false,"zero":false},"axis":{"values":[0,12,24,36,48,60,72],"format":"d","title":null,"labelExpr":"datum.value % 24 === 0 ? datum.label : ''","tickOpacity":{"condition":{"test":"datum.value % 24 === 0","value":1},"value":0},"gridWidth":{"condition":{"test":"datum.value % 24 === 0","value":0.8},"value":0.4}}},
        "y":{"field":"c","type":"quantitative","scale":{"type":"log","domain":[8.4,1560],"nice":false},"axis":{"values":[10,31.62,100,316.2,1000],"labels":false,"ticks":false,"title":null,"gridWidth":{"condition":{"test":"datum.value === 10 || datum.value === 100 || datum.value === 1000","value":0.8},"value":0.4}}},
        "detail":{"field":"i","type":"nominal"}},
       "layer":[{"transform":[{"filter":{"field":"g","equal":"n"}}],"mark":{"type":"line","color":"#B3B3B3","strokeWidth":0.8}},
        {"transform":[{"filter":{"field":"g","oneOf":["o","e"]}}],"mark":{"type":"line","strokeWidth":0.9},"encoding":{"color":{"field":"g","type":"nominal","scale":{"domain":["o","e"],"range":["#F39C4B","#21A084"]},"legend":null}}}]}
     ]}
    ]}
   ]}]}]},
{"title":{"text":"b","anchor":"start","frame":"bounds","fontSize":22,"font":"Open Sans","offset":0},
 "vconcat":[{"title":{"text":"Meloxicam (ng/mL)","orient":"left","anchor":"middle","fontSize":9.5,"font":"Open Sans","offset":0},
  "vconcat":[{"title":{"text":"Time (h)","orient":"bottom","anchor":"middle","fontSize":9.5,"font":"Open Sans","offset":2},
   "spacing":4,
   "vconcat":[
    {"spacing":5,"hconcat":[
     {"spacing":0,"vconcat":[
      {"width":126,"height":14,"data":{"values":[{"p":"Japanese"}]},"mark":{"type":"text","fontSize":7,"color":"#1A1A1A"},"encoding":{"text":{"field":"p","type":"nominal"}},"view":{"fill":"#D9D9D9","stroke":"#8C8C8C"}},
      {"width":126,"height":208,"data":{"name":"pk"},"transform":[{"lookup":"i","from":{"data":{"name":"subj"},"key":"i","fields":["p","g"]}},{"filter":{"field":"p","equal":"Japanese"}},{"filter":{"field":"t","lte":12}}],
       "encoding":{"x":{"field":"t","type":"quantitative","scale":{"type":"log","domain":[0.89,13.4],"nice":false},"axis":{"values":[1,1.414,2,2.828,4,4.899,6,6.928,8,8.944,10,10.954,12],"labels":false,"ticks":false,"title":null,"gridWidth":{"condition":{"test":"round(datum.value) === datum.value","value":0.8},"value":0.4}}},
        "y":{"field":"c","type":"quantitative","scale":{"type":"log","domain":[8.4,1560],"nice":false},"axis":{"values":[10,31.62,100,316.2,1000],"format":"d","title":null,"labelExpr":"(datum.value === 10 || datum.value === 100 || datum.value === 1000) ? datum.label : ''","tickOpacity":{"condition":{"test":"datum.value === 10 || datum.value === 100 || datum.value === 1000","value":1},"value":0},"gridWidth":{"condition":{"test":"datum.value === 10 || datum.value === 100 || datum.value === 1000","value":0.8},"value":0.4}}},
        "detail":{"field":"i","type":"nominal"}},
       "layer":[{"transform":[{"filter":{"field":"g","equal":"n"}}],"mark":{"type":"line","color":"#B3B3B3","strokeWidth":0.8}},
        {"transform":[{"filter":{"field":"g","oneOf":["o","e"]}}],"mark":{"type":"line","strokeWidth":0.9},"encoding":{"color":{"field":"g","type":"nominal","scale":{"domain":["o","e"],"range":["#F39C4B","#21A084"]},"legend":null}}}]}
     ]},
     {"spacing":0,"vconcat":[
      {"width":126,"height":14,"data":{"values":[{"p":"Chinese"}]},"mark":{"type":"text","fontSize":7,"color":"#1A1A1A"},"encoding":{"text":{"field":"p","type":"nominal"}},"view":{"fill":"#D9D9D9","stroke":"#8C8C8C"}},
      {"width":126,"height":208,"data":{"name":"pk"},"transform":[{"lookup":"i","from":{"data":{"name":"subj"},"key":"i","fields":["p","g"]}},{"filter":{"field":"p","equal":"Chinese"}},{"filter":{"field":"t","lte":12}}],
       "encoding":{"x":{"field":"t","type":"quantitative","scale":{"type":"log","domain":[0.89,13.4],"nice":false},"axis":{"values":[1,1.414,2,2.828,4,4.899,6,6.928,8,8.944,10,10.954,12],"labels":false,"ticks":false,"title":null,"gridWidth":{"condition":{"test":"round(datum.value) === datum.value","value":0.8},"value":0.4}}},
        "y":{"field":"c","type":"quantitative","scale":{"type":"log","domain":[8.4,1560],"nice":false},"axis":{"values":[10,31.62,100,316.2,1000],"labels":false,"ticks":false,"title":null,"gridWidth":{"condition":{"test":"datum.value === 10 || datum.value === 100 || datum.value === 1000","value":0.8},"value":0.4}}},
        "detail":{"field":"i","type":"nominal"}},
       "layer":[{"transform":[{"filter":{"field":"g","equal":"n"}}],"mark":{"type":"line","color":"#B3B3B3","strokeWidth":0.8}},
        {"transform":[{"filter":{"field":"g","oneOf":["o","e"]}}],"mark":{"type":"line","strokeWidth":0.9},"encoding":{"color":{"field":"g","type":"nominal","scale":{"domain":["o","e"],"range":["#F39C4B","#21A084"]},"legend":null}}}]}
     ]}
    ]},
    {"spacing":5,"hconcat":[
     {"spacing":0,"vconcat":[
      {"width":126,"height":14,"data":{"values":[{"p":"Korean"}]},"mark":{"type":"text","fontSize":7,"color":"#1A1A1A"},"encoding":{"text":{"field":"p","type":"nominal"}},"view":{"fill":"#D9D9D9","stroke":"#8C8C8C"}},
      {"width":126,"height":208,"data":{"name":"pk"},"transform":[{"lookup":"i","from":{"data":{"name":"subj"},"key":"i","fields":["p","g"]}},{"filter":{"field":"p","equal":"Korean"}},{"filter":{"field":"t","lte":12}}],
       "encoding":{"x":{"field":"t","type":"quantitative","scale":{"type":"log","domain":[0.89,13.4],"nice":false},"axis":{"values":[1,1.414,2,2.828,4,4.899,6,6.928,8,8.944,10,10.954,12],"format":"d","title":null,"labelExpr":"round(datum.value) === datum.value ? datum.label : ''","tickOpacity":{"condition":{"test":"round(datum.value) === datum.value","value":1},"value":0},"gridWidth":{"condition":{"test":"round(datum.value) === datum.value","value":0.8},"value":0.4}}},
        "y":{"field":"c","type":"quantitative","scale":{"type":"log","domain":[8.4,1560],"nice":false},"axis":{"values":[10,31.62,100,316.2,1000],"format":"d","title":null,"labelExpr":"(datum.value === 10 || datum.value === 100 || datum.value === 1000) ? datum.label : ''","tickOpacity":{"condition":{"test":"datum.value === 10 || datum.value === 100 || datum.value === 1000","value":1},"value":0},"gridWidth":{"condition":{"test":"datum.value === 10 || datum.value === 100 || datum.value === 1000","value":0.8},"value":0.4}}},
        "detail":{"field":"i","type":"nominal"}},
       "layer":[{"transform":[{"filter":{"field":"g","equal":"n"}}],"mark":{"type":"line","color":"#B3B3B3","strokeWidth":0.8}},
        {"transform":[{"filter":{"field":"g","oneOf":["o","e"]}}],"mark":{"type":"line","strokeWidth":0.9},"encoding":{"color":{"field":"g","type":"nominal","scale":{"domain":["o","e"],"range":["#F39C4B","#21A084"]},"legend":null}}}]}
     ]},
     {"spacing":0,"vconcat":[
      {"width":126,"height":14,"data":{"values":[{"p":"Caucasian"}]},"mark":{"type":"text","fontSize":7,"color":"#1A1A1A"},"encoding":{"text":{"field":"p","type":"nominal"}},"view":{"fill":"#D9D9D9","stroke":"#8C8C8C"}},
      {"width":126,"height":208,"data":{"name":"pk"},"transform":[{"lookup":"i","from":{"data":{"name":"subj"},"key":"i","fields":["p","g"]}},{"filter":{"field":"p","equal":"Caucasian"}},{"filter":{"field":"t","lte":12}}],
       "encoding":{"x":{"field":"t","type":"quantitative","scale":{"type":"log","domain":[0.89,13.4],"nice":false},"axis":{"values":[1,1.414,2,2.828,4,4.899,6,6.928,8,8.944,10,10.954,12],"format":"d","title":null,"labelExpr":"round(datum.value) === datum.value ? datum.label : ''","tickOpacity":{"condition":{"test":"round(datum.value) === datum.value","value":1},"value":0},"gridWidth":{"condition":{"test":"round(datum.value) === datum.value","value":0.8},"value":0.4}}},
        "y":{"field":"c","type":"quantitative","scale":{"type":"log","domain":[8.4,1560],"nice":false},"axis":{"values":[10,31.62,100,316.2,1000],"labels":false,"ticks":false,"title":null,"gridWidth":{"condition":{"test":"datum.value === 10 || datum.value === 100 || datum.value === 1000","value":0.8},"value":0.4}}},
        "detail":{"field":"i","type":"nominal"}},
       "layer":[{"transform":[{"filter":{"field":"g","equal":"n"}}],"mark":{"type":"line","color":"#B3B3B3","strokeWidth":0.8}},
        {"transform":[{"filter":{"field":"g","oneOf":["o","e"]}}],"mark":{"type":"line","strokeWidth":0.9},"encoding":{"color":{"field":"g","type":"nominal","scale":{"domain":["o","e"],"range":["#F39C4B","#21A084"]},"legend":null}}}]}
     ]}
    ]}
   ]}]}]}
]
}
